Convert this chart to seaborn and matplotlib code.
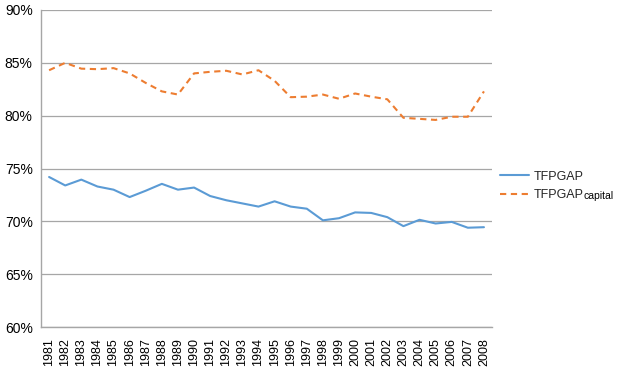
import matplotlib
matplotlib.use("Agg")
import matplotlib.pyplot as plt
import seaborn as sns
import pandas as pd
from matplotlib.ticker import FixedLocator, PercentFormatter

years = list(range(1981, 2009))
tfpgap = [74.2, 73.4, 73.95, 73.3, 73.0, 72.3, 72.9, 73.55, 73.0, 73.2,
          72.4, 72.0, 71.7, 71.4, 71.9, 71.4, 71.2, 70.1, 70.3, 70.85,
          70.8, 70.4, 69.55, 70.15, 69.8, 69.95, 69.4, 69.45]
tfpgap_capital = [84.3, 85.0, 84.45, 84.4, 84.5, 84.0, 83.1, 82.3, 82.0, 84.0,
                  84.15, 84.25, 83.9, 84.3, 83.3, 81.75, 81.8, 82.0, 81.6, 82.1,
                  81.8, 81.55, 79.8, 79.7, 79.6, 79.9, 79.9, 82.3]
series_names = ["TFPGAP", "TFPGAP "]
subscript = "capital"
y_ticks = [60, 65, 70, 75, 80, 85, 90]

sns.set_theme(style="white")
plt.rcParams["font.family"] = ["Liberation Sans", "DejaVu Sans"]

df = pd.DataFrame({
    "year": years * 2,
    "value": tfpgap + tfpgap_capital,
    "series": [series_names[0]] * len(years) + [series_names[1]] * len(years),
})

fig = plt.figure(figsize=(6.22, 3.70), dpi=100)
ax = fig.add_axes([0.066, 0.116, 0.725, 0.857])

sns.lineplot(data=df, x="year", y="value", hue="series", style="series",
             palette=["#5B9BD5", "#ED7D31"],
             dashes={series_names[0]: "", series_names[1]: (3, 2.2)},
             linewidth=1.5, ax=ax)

ax.set_xlim(years[0] - 0.5, years[-1] + 0.5)
ax.set_ylim(60, 90)
ax.set_yticks(y_ticks)
ax.yaxis.set_major_formatter(PercentFormatter(decimals=0))
ax.set_xticks(years)
ax.set_xticklabels([str(y) for y in years], rotation=90, fontsize=9)
ax.xaxis.set_minor_locator(FixedLocator([y + 0.5 for y in [years[0] - 1] + years]))
ax.tick_params(axis="x", which="major", length=0, pad=8, colors="black")
ax.tick_params(axis="x", which="minor", length=4, color="#A6A6A6", width=0.8, direction="out")
ax.tick_params(axis="y", length=0, labelsize=10, pad=6, colors="black")
ax.set_xlabel("")
ax.set_ylabel("")
ax.grid(axis="y", color="#A6A6A6", linewidth=0.9)
ax.set_axisbelow(True)
for s in ["top", "right"]:
    ax.spines[s].set_visible(False)
for s in ["left", "bottom"]:
    ax.spines[s].set_color("#A6A6A6")
    ax.spines[s].set_linewidth(1.0)

leg = ax.legend(loc="center left", bbox_to_anchor=(1.007, 0.445), frameon=False,
                fontsize=9, handlelength=2.3, handletextpad=0.4, labelspacing=0.5,
                borderaxespad=0)
leg.get_texts()[1].set_text("TFPGAP")

# subscript part of the second legend label
fig.canvas.draw()
renderer = fig.canvas.get_renderer()
bb = leg.get_texts()[1].get_window_extent(renderer)
inv = fig.transFigure.inverted()
x0, y0 = inv.transform((bb.x1 - 0.5, bb.y0 + 1.8))
fig.text(x0, y0, subscript, fontsize=7.5, ha="left", va="baseline", color="black")

fig.savefig("out.png", dpi=100)
